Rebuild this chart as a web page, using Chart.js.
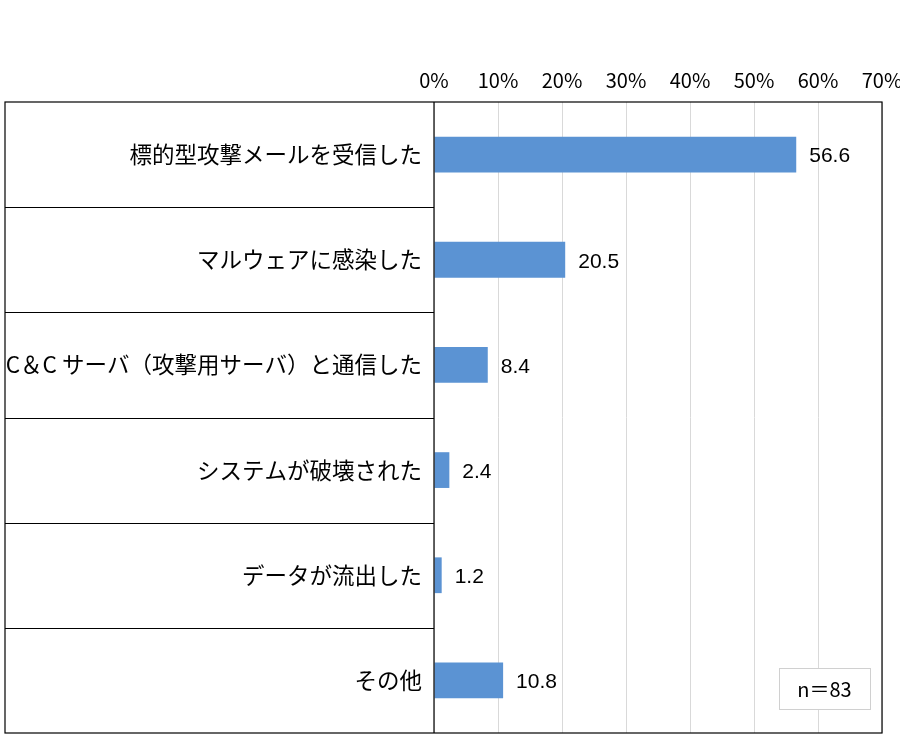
<!DOCTYPE html>
<html>
<head>
<meta charset="utf-8">
<script src="https://cdn.jsdelivr.net/npm/chart.js@4"></script>
<style>
html,body{margin:0;padding:0;background:#fff;}
#wrap{width:900px;height:754px;}
</style>
</head>
<body>
<div id="wrap"><canvas id="chart"></canvas></div>
<script>
// ===== DATA =====
const categories = [
  "標的型攻撃メールを受信した",
  "マルウェアに感染した",
  "C＆C サーバ（攻撃用サーバ）と通信した",
  "システムが破壊された",
  "データが流出した",
  "その他"
];
const values = [56.6, 20.5, 8.4, 2.4, 1.2, 10.8];
const tickValues = [0, 10, 20, 30, 40, 50, 60, 70];
const sampleNote = "n＝83";

const JP = "'Noto Sans CJK JP', 'Noto Sans', sans-serif";

// ===== TABLE LINES / BORDER =====
const tableLines = {
  id: "tableLines",
  afterDraw(chart) {
    const ctx = chart.ctx;
    const a = chart.chartArea;
    const y = chart.scales.y;
    const outerLeft = 5;
    ctx.save();
    ctx.strokeStyle = "#000";
    ctx.lineWidth = 1.2;
    ctx.strokeRect(outerLeft, a.top, a.right - outerLeft, a.bottom - a.top);
    ctx.beginPath();
    ctx.moveTo(a.left, a.top);
    ctx.lineTo(a.left, a.bottom);
    for (let i = 0; i < categories.length - 1; i++) {
      const yy = Math.round((y.getPixelForValue(i) + y.getPixelForValue(i + 1)) / 2) + 0.5;
      ctx.moveTo(outerLeft, yy);
      ctx.lineTo(a.left, yy);
    }
    ctx.stroke();

    // n box
    const bx = a.right - 103, by = a.bottom - 65, bw = 91, bh = 41;
    ctx.fillStyle = "#fff";
    ctx.fillRect(bx, by, bw, bh);
    ctx.strokeStyle = "#d0d0d0";
    ctx.lineWidth = 1;
    ctx.strokeRect(bx + 0.5, by + 0.5, bw, bh);
    ctx.fillStyle = "#000";
    ctx.font = "20px " + JP;
    ctx.textAlign = "center";
    ctx.textBaseline = "middle";
    ctx.fillText(sampleNote, bx + bw / 2, by + bh / 2 + 1);
    ctx.restore();
  }
};

// ===== VALUE LABELS =====
const valueLabels = {
  id: "valueLabels",
  afterDatasetsDraw(chart) {
    const ctx = chart.ctx;
    const meta = chart.getDatasetMeta(0);
    ctx.save();
    ctx.fillStyle = "#000";
    ctx.font = "21px 'Liberation Sans', Arial, sans-serif";
    ctx.textAlign = "left";
    ctx.textBaseline = "middle";
    meta.data.forEach((bar, i) => {
      ctx.fillText(values[i].toFixed(1), bar.x + 13, bar.y + 2);
    });
    ctx.restore();
  }
};

new Chart(document.getElementById("chart"), {
  type: "bar",
  data: {
    labels: categories,
    datasets: [{
      data: values,
      backgroundColor: "#5B93D3",
      borderWidth: 0,
      barPercentage: 0.34,
      categoryPercentage: 1
    }]
  },
  options: {
    indexAxis: "y",
    responsive: true,
    maintainAspectRatio: false,
    animation: false,
    layout: { padding: { left: 5, right: 18, top: 0, bottom: 21 } },
    plugins: {
      legend: { display: false },
      tooltip: { enabled: false }
    },
    scales: {
      x: {
        position: "top",
        min: tickValues[0],
        max: tickValues[tickValues.length - 1],
        afterBuildTicks: s => { s.ticks = tickValues.map(v => ({ value: v })); },
        afterFit: s => { s.height = 102; s.paddingLeft = 0; s.paddingRight = 0; },
        ticks: {
          callback: v => v + "%",
          color: "#000",
          font: { size: 20, family: JP },
          padding: 10,
          maxRotation: 0
        },
        grid: { color: "#d9d9d9", drawTicks: false, lineWidth: 1 },
        border: { display: false }
      },
      y: {
        afterFit: s => { s.width = 429; },
        ticks: {
          color: "#000",
          font: { size: 22.5, family: JP },
          padding: 4
        },
        grid: { display: false },
        border: { display: false }
      }
    }
  },
  plugins: [tableLines, valueLabels]
});
</script>
</body>
</html>
